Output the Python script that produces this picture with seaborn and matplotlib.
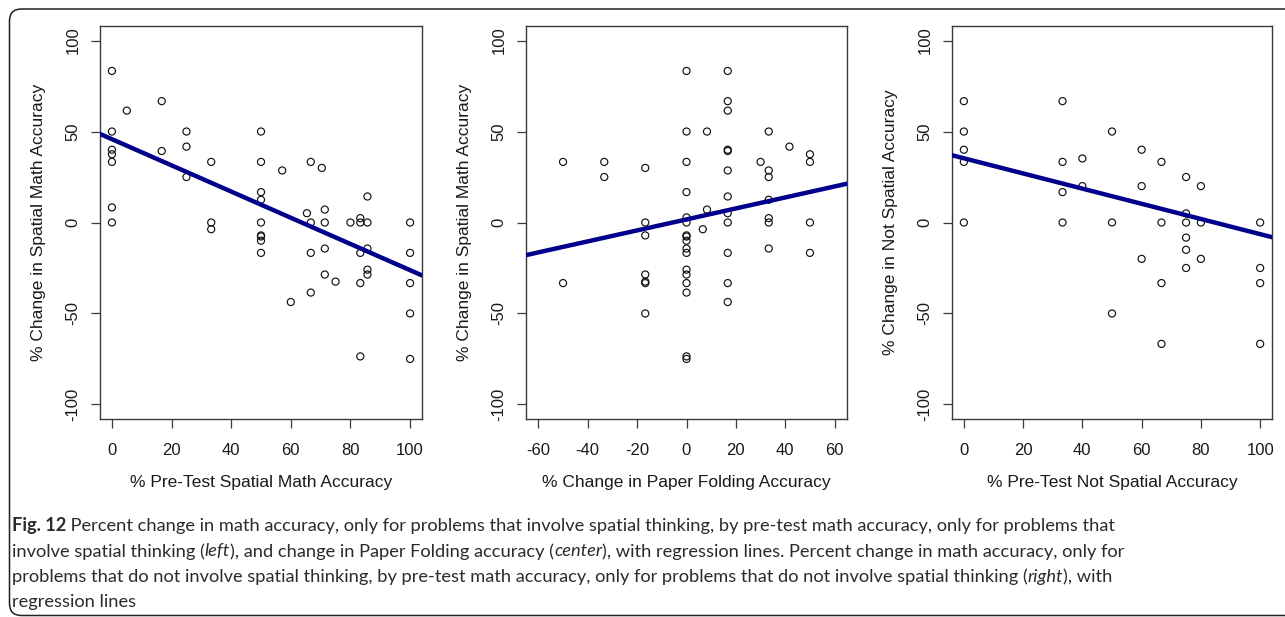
import numpy as np
import pandas as pd
import matplotlib.pyplot as plt
import matplotlib.transforms as mtransforms
from matplotlib.patches import FancyBboxPatch
import seaborn as sns

# left: pre-test spatial math accuracy vs change in spatial math accuracy
pre_spatial = [0, 0, 0, 0, 0, 0, 0,
               5,
               16.7, 16.7,
               25, 25, 25,
               33.3, 33.3, 33.3,
               50, 50, 50, 50, 50, 50, 50, 50, 50,
               57.1, 60, 65.4,
               66.7, 66.7, 66.7, 66.7,
               70.4,
               71.4, 71.4, 71.4, 71.4,
               75, 80,
               83.3, 83.3, 83.3, 83.3, 83.3,
               85.7, 85.7, 85.7, 85.7, 85.7,
               100, 100, 100, 100, 100]
chg_spatial_left = [83.3, 50, 40, 37.5, 33.3, 8.3, 0,
                    61.5,
                    66.7, 39.3,
                    50, 41.7, 25,
                    33.3, 0, -3.7,
                    50, 33.3, 16.7, 12.5, 0, -7.1, -7.7, -10, -16.7,
                    28.6, -43.7, 5.1,
                    33.3, 0, -16.7, -38.5,
                    30,
                    7.1, 0, -14.3, -28.6,
                    -32.5, 0,
                    2.4, 0, -16.7, -33.3, -73.6,
                    14.3, 0, -14.3, -25.9, -28.6,
                    0, -16.7, -33.3, -50, -75]

# center: change in paper folding accuracy vs change in spatial math accuracy
chg_folding = [-50, -50,
               -33.3, -33.3,
               -16.7, -16.7, -16.7, -16.7, -16.7, -16.7, -16.7,
               0, 0, 0, 0, 0, 0, 0, 0, 0, 0, 0, 0, 0, 0, 0, 0, 0,
               6.6, 8.3, 8.3,
               16.7, 16.7, 16.7, 16.7, 16.7, 16.7, 16.7, 16.7, 16.7, 16.7, 16.7, 16.7,
               30,
               33.3, 33.3, 33.3, 33.3, 33.3, 33.3, 33.3,
               41.7,
               50, 50, 50, 50]
chg_spatial_center = [33.3, -33.3,
                      33.3, 25,
                      30, 0, -7.1, -28.6, -32.5, -33.3, -50,
                      83.3, 50, 33.3, 16.7, 2.8, 0, -7.1, -7.7, -10, -14.3, -16.7, -25.9, -28.6, -33.3, -38.5, -73.6, -75,
                      -3.7, 50, 7.1,
                      83.3, 66.7, 61.5, 40, 39.3, 28.6, 14.3, 5.1, 0, -16.7, -33.3, -43.7,
                      33.3,
                      50, 28.6, 25, 12.5, 2.4, 0, -14.3,
                      41.7,
                      37.5, 33.3, 0, -16.7]

# right: pre-test not spatial accuracy vs change in not spatial accuracy
pre_not_spatial = [0, 0, 0, 0, 0,
                   33.3, 33.3, 33.3, 33.3,
                   40, 40,
                   50, 50, 50,
                   60, 60, 60,
                   66.7, 66.7, 66.7, 66.7,
                   75, 75, 75, 75, 75, 75,
                   80, 80, 80,
                   100, 100, 100, 100]
chg_not_spatial = [66.7, 50, 40, 33.3, 0,
                   66.7, 33.3, 16.7, 0,
                   35.2, 20,
                   50, 0, -50,
                   40, 20, -20,
                   33.3, 0, -33.3, -66.7,
                   25, 5, 0, -8.3, -15, -25,
                   20, 0, -20,
                   0, -25, -33.3, -66.7]

# regression lines as printed (intercept, slope)
fit_intercepts = [45.8, 1.7, 35.3]
fit_slopes = [-0.72, 0.302, -0.417]

panels = [
    (pre_spatial, chg_spatial_left, (-4, 104), np.arange(0, 101, 20),
     '% Pre-Test Spatial Math Accuracy', '% Change in Spatial Math Accuracy'),
    (chg_folding, chg_spatial_center, (-65, 65), np.arange(-60, 61, 20),
     '% Change in Paper Folding Accuracy', '% Change in Spatial Math Accuracy'),
    (pre_not_spatial, chg_not_spatial, (-4, 104), np.arange(0, 101, 20),
     '% Pre-Test Not Spatial Accuracy', '% Change in Not Spatial Accuracy'),
]

sns.set_theme(style='white')
plt.rcParams['font.family'] = ['Liberation Sans', 'DejaVu Sans']
plt.rcParams['axes.unicode_minus'] = False

W, H = 1285, 617
fig = plt.figure(figsize=(W / 100, H / 100), dpi=100)

# axes boxes in pixels (left, top, right, bottom)
boxes = [(100, 26, 422, 419), (526, 26, 847, 419), (952, 26, 1272, 419)]

for i, ((xv, yv, xlim, xticks, xlab, ylab), (l, t, r, b)) in enumerate(zip(panels, boxes)):
    ax = fig.add_axes([l / W, 1 - b / H, (r - l) / W, (b - t) / H])
    df = pd.DataFrame({'x': xv, 'y': yv})
    sns.scatterplot(data=df, x='x', y='y', ax=ax, s=26, facecolor='none',
                    edgecolor='#111111', linewidth=0.85, zorder=2)
    ax.axline((0, fit_intercepts[i]), slope=fit_slopes[i], color='#00008B', lw=3.2, zorder=3)
    ax.set_xlim(xlim)
    ax.set_ylim(-108, 108)
    ax.set_xticks(xticks)
    ax.set_yticks([-100, -50, 0, 50, 100])
    for sp in ax.spines.values():
        sp.set_color('#3a3a3a')
        sp.set_linewidth(1.0)
    ax.tick_params(axis='both', direction='out', length=6.5, width=0.9,
                   color='#3a3a3a', labelsize=12, labelcolor='#1a1a1a')
    ax.tick_params(axis='x', pad=11, bottom=True)
    ax.tick_params(axis='y', pad=7.5, left=True)
    for lbl in ax.get_yticklabels():
        lbl.set_rotation(90)
        lbl.set_va('center')
    ax.set_xlabel(xlab, fontsize=12.5, color='#1a1a1a')
    ax.set_ylabel(ylab, fontsize=12.5, color='#1a1a1a')
    ax.xaxis.set_label_coords(0.5, (b - 483) / (b - t))
    ax.xaxis.label.set_va('center')
    ax.yaxis.set_label_coords(-61 / (r - l), 0.5)
    ax.yaxis.label.set_va('center')

# rounded frame around figure + caption
frame = FancyBboxPatch((9.5, 1.5), 1400, 606.5, boxstyle='round,pad=0,rounding_size=12',
                       transform=mtransforms.IdentityTransform(),
                       fill=False, edgecolor='#231f20', lw=1.1)
fig.add_artist(frame)

rend = fig.canvas.get_renderer()
cap_font = ['Lato', 'DejaVu Sans']
cap_color = '#2b2b2b'


def text_w(s, size, **kw):
    t1 = fig.text(0, 0, '|' + s + '|', fontsize=size, family=cap_font, **kw)
    t2 = fig.text(0, 0, '||', fontsize=size, family=cap_font, **kw)
    w = t1.get_window_extent(rend).width - t2.get_window_extent(rend).width
    t1.remove()
    t2.remove()
    return w


def style_kw(st):
    if st == 'b':
        return dict(fontweight='bold')
    if st == 'i':
        return dict(fontstyle='italic')
    return {}


caption = [
    [('Fig. 12', 'b'), (' Percent change in math accuracy, only for problems that involve spatial '
                        'thinking, by pre-test math accuracy, only for problems that', 'n')],
    [('involve spatial thinking (', 'n'), ('left', 'i'),
     ('), and change in Paper Folding accuracy (', 'n'), ('center', 'i'),
     ('), with regression lines. Percent change in math accuracy, only for', 'n')],
    [('problems that do not involve spatial thinking, by pre-test math accuracy, only for '
      'problems that do not involve spatial thinking (', 'n'), ('right', 'i'), ('), with', 'n')],
    [('regression lines', 'n')],
]
baselines = [531, 556.5, 582, 607.5]

# fit caption size so that the first line spans ~1100 px
w0 = sum(text_w(s, 13, **style_kw(st)) for s, st in caption[0])
cap_size = 13 * 1100 / w0

for line, yb in zip(caption, baselines):
    x = 12
    for s, st in line:
        fig.text(x / W, 1 - yb / H, s, fontsize=cap_size, family=cap_font, color=cap_color,
                 va='baseline', ha='left', **style_kw(st))
        x += text_w(s, cap_size, **style_kw(st))

fig.savefig('out.png', dpi=100)
